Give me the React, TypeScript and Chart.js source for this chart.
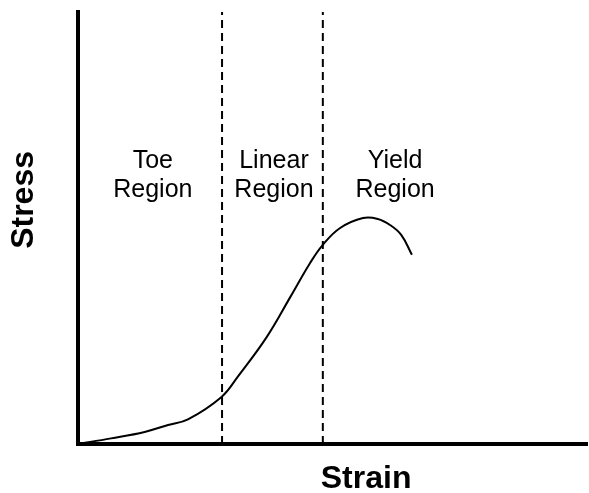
import React, { useEffect, useRef } from "react";
import { Chart, registerables } from "chart.js";

Chart.register(...registerables);

// Stress–strain curve (arbitrary units, 0–100 on both axes)
const strain = [0, 6.5, 13.1, 17.7, 21.6, 28.2, 31.4, 37.1, 41.7, 45.6, 48.1, 51.5, 56.0, 58.9, 61.3, 63.5, 65.6];
const stress = [0, 1.3, 2.8, 4.4, 5.7, 10.9, 15.6, 24.8, 34.0, 41.9, 46.1, 50.0, 52.3, 52.1, 50.7, 48.4, 43.8];

// Region boundaries (strain values)
const boundaries = [28.3, 48.1];

// Region labels
const regionLabels = [
  ["Toe", "Region"],
  ["Linear", "Region"],
  ["Yield", "Region"],
];
const regionCenters = [14.7, 38.5, 62.3];

const xTitle = "Strain";
const yTitle = "Stress";

const FONT = '"Liberation Sans", Arial, Helvetica, sans-serif';

const textPlugin = {
  id: "customText",
  afterDraw(chart: any) {
    const ctx = chart.ctx as CanvasRenderingContext2D;
    const xs = chart.scales.x;
    const ys = chart.scales.y;
    ctx.save();
    ctx.fillStyle = "#000";
    ctx.textAlign = "center";
    ctx.textBaseline = "alphabetic";
    ctx.font = `25px ${FONT}`;
    regionLabels.forEach((lines, i) => {
      const cx = xs.getPixelForValue(regionCenters[i]);
      ctx.fillText(lines[0], cx, ys.getPixelForValue(63.9));
      ctx.fillText(lines[1], cx, ys.getPixelForValue(57.2));
    });
    ctx.font = `bold 32px ${FONT}`;
    ctx.fillText(xTitle, xs.getPixelForValue(56.6), 488);
    ctx.translate(33, ys.getPixelForValue(56.5));
    ctx.rotate(-Math.PI / 2);
    ctx.fillText(yTitle, 0, 0);
    ctx.restore();
  },
};

export default function App() {
  const ref = useRef<HTMLCanvasElement | null>(null);

  useEffect(() => {
    if (!ref.current) return;
    const curve = strain.map((x, i) => ({ x, y: stress[i] }));
    const dashSets = boundaries.map((b) => ({
      data: [
        { x: b, y: 0 },
        { x: b, y: 100 },
      ],
      borderColor: "#000",
      borderWidth: 2,
      borderDash: [8, 5],
      pointRadius: 0,
      showLine: true,
      fill: false,
    }));
    const chart = new Chart(ref.current, {
      type: "scatter",
      data: {
        datasets: [
          {
            data: curve,
            borderColor: "#000",
            borderWidth: 2,
            pointRadius: 0,
            showLine: true,
            fill: false,
            tension: 0.4,
          } as any,
          ...(dashSets as any[]),
        ],
      },
      options: {
        responsive: false,
        animation: false,
        layout: { padding: { left: 78, top: 12, right: 2, bottom: 49 } },
        plugins: {
          legend: { display: false },
          tooltip: { enabled: false },
          title: { display: false },
        },
        scales: {
          x: {
            type: "linear",
            min: 0,
            max: 100,
            grid: { display: false },
            ticks: { display: false },
            border: { display: true, color: "#000", width: 4 },
            afterFit: (s: any) => {
              s.height = 0;
            },
          },
          y: {
            type: "linear",
            min: 0,
            max: 100,
            grid: { display: false },
            ticks: { display: false },
            border: { display: true, color: "#000", width: 4 },
            afterFit: (s: any) => {
              s.width = 0;
            },
          },
        },
      },
      plugins: [textPlugin],
    });
    return () => chart.destroy();
  }, []);

  return (
    <div style={{ position: "absolute", left: 0, top: 0, width: 589, height: 493, background: "#fff" }}>
      <canvas ref={ref} width={589} height={493} />
    </div>
  );
}
